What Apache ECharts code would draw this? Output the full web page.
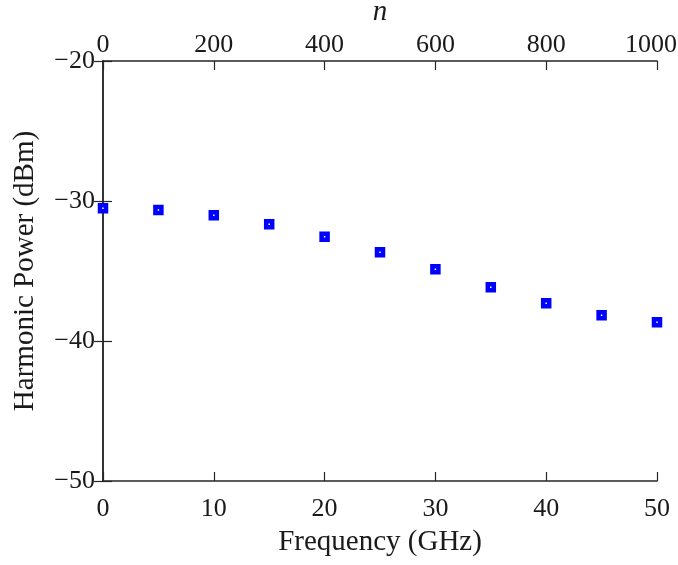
<!DOCTYPE html>
<html>
<head>
<meta charset="utf-8">
<script src="https://cdn.jsdelivr.net/npm/echarts@6/dist/echarts.min.js"></script>
<style>
  html, body { margin: 0; padding: 0; background: #fff; }
  #main { width: 678px; height: 565px; }
</style>
</head>
<body>
<div id="main"></div>
<script>
// frequency (GHz) and harmonic power (dBm)
var freq = [0, 5, 10, 15, 20, 25, 30, 35, 40, 45, 50];
var power = [-30.52, -30.64, -31.02, -31.66, -32.55, -33.66, -34.88, -36.16, -37.31, -38.16, -38.66];

var font = 'Liberation Serif';
var axisCol = '#262626';
var txtCol = '#1a1a1a';

var chart = echarts.init(document.getElementById('main'));

function fmtMinus(v) {
  return v < 0 ? '\u2212' + Math.abs(v) : String(v);
}

var baseAxis = {
  axisLine: { show: true, lineStyle: { color: axisCol, width: 1.5 } },
  axisTick: { show: true, inside: true, length: 9, lineStyle: { color: axisCol, width: 1.2 } },
  splitLine: { show: false },
  nameTextStyle: { fontFamily: font, fontSize: 29, color: txtCol }
};

var options = {
  backgroundColor: '#fff',
  animation: false,
  grid: { left: 103, right: 21, top: 61, bottom: 84, containLabel: false, outerBoundsMode: 'none' },
  xAxis: [
    Object.assign({}, baseAxis, {
      type: 'value',
      position: 'bottom',
      min: 0, max: 50, interval: 10,
      name: 'Frequency (GHz)',
      nameLocation: 'middle',
      nameGap: 47,
      axisLabel: { fontFamily: font, fontSize: 26, color: txtCol, margin: 15 }
    }),
    Object.assign({}, baseAxis, {
      type: 'value',
      position: 'top',
      min: 0, max: 1000, interval: 200,
      name: 'n',
      nameLocation: 'middle',
      nameGap: 32,
      nameTextStyle: { fontFamily: font, fontSize: 29, fontStyle: 'italic', color: txtCol },
      axisLabel: {
        fontFamily: font, fontSize: 26, color: txtCol, margin: 3,
        formatter: function (v) { return v === 1000 ? '{r|1000}' : String(v); },
        rich: { r: { fontFamily: font, fontSize: 26, color: txtCol, padding: [0, 12, 0, 0] } }
      }
    })
  ],
  yAxis: [
    Object.assign({}, baseAxis, {
      type: 'value',
      position: 'left',
      min: -50, max: -20, interval: 10,
      name: 'Harmonic Power (dBm)',
      nameLocation: 'middle',
      nameGap: 63,
      axisLabel: { fontFamily: font, fontSize: 26, color: txtCol, margin: 8, formatter: fmtMinus }
    }),
    Object.assign({}, baseAxis, {
      type: 'value',
      position: 'right',
      min: -50, max: -20, interval: 10,
      axisLabel: { show: false }
    })
  ],
  series: [{
    type: 'scatter',
    xAxisIndex: 0,
    yAxisIndex: 0,
    symbol: 'rect',
    symbolSize: 6,
    itemStyle: { color: '#fff', borderColor: '#0000ff', borderWidth: 4.5, opacity: 1 },
    data: freq.map(function (f, i) { return [f, power[i]]; })
  }]
};

chart.setOption(options);
</script>
</body>
</html>
